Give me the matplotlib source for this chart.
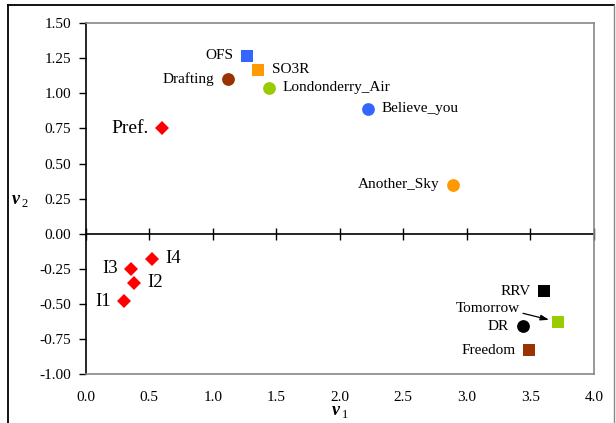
import matplotlib
matplotlib.use("Agg")
import matplotlib.pyplot as plt
from matplotlib.lines import Line2D

plt.rcParams['font.family'] = ['Liberation Serif', 'DejaVu Serif']
plt.rcParams['axes.unicode_minus'] = False
plt.rcParams['mathtext.fontset'] = 'custom'
plt.rcParams['mathtext.bf'] = 'Liberation Serif:italic:bold'
plt.rcParams['mathtext.rm'] = 'Liberation Serif'

# songs
songs = ['OFS', 'SO3R', 'Drafting', 'Londonderry_Air', 'Believe_you', 'Another_Sky',
         'RRV', 'Tomorrow', 'DR', 'Freedom']
songs_v1 = [1.27, 1.36, 1.12, 1.44, 2.22, 2.89, 3.61, 3.72, 3.44, 3.49]
songs_v2 = [1.27, 1.17, 1.10, 1.04, 0.89, 0.35, -0.41, -0.63, -0.66, -0.83]

# preference / individuals
pref = ['Pref.', 'I1', 'I2', 'I3', 'I4']
pref_v1 = [0.60, 0.30, 0.38, 0.36, 0.52]
pref_v2 = [0.75, -0.48, -0.35, -0.25, -0.18]

x_ticks = [0.0, 0.5, 1.0, 1.5, 2.0, 2.5, 3.0, 3.5, 4.0]
y_ticks = [-1.0, -0.75, -0.5, -0.25, 0.0, 0.25, 0.5, 0.75, 1.0, 1.25, 1.5]

# styles
song_colors = ['#3366FF', '#FF9900', '#993300', '#99CC00', '#3366FF', '#FF9900',
               '#000000', '#99CC00', '#000000', '#993300']
song_markers = ['s', 's', 'o', 'o', 'o', 'o', 's', 's', 'o', 's']
song_side = {'OFS': -1, 'SO3R': 1, 'Drafting': -1, 'Londonderry_Air': 1,
             'Believe_you': 1, 'Another_Sky': -1, 'RRV': -1, 'DR': -1, 'Freedom': -1}
pref_side = {'Pref.': -1, 'I1': -1, 'I2': 1, 'I3': -1, 'I4': 1}

fig = plt.figure(figsize=(6.16, 4.23), dpi=100)
ax = fig.add_axes([0.139, 0.1158, 0.8253, 0.8292])

for name, x, y, c, m in zip(songs, songs_v1, songs_v2, song_colors, song_markers):
    ms = 8.6 if m == 's' else 9.2
    ax.plot(x, y, marker=m, color=c, ms=ms, mew=0, ls='none', zorder=3)
    if name in song_side:
        s = song_side[name]
        ax.annotate(name, (x, y), xytext=(s * 9.8, 0), textcoords='offset points',
                    ha='left' if s > 0 else 'right', va='center', fontsize=11)

i_tom = songs.index('Tomorrow')
ax.annotate('Tomorrow', (songs_v1[i_tom], songs_v2[i_tom]), xytext=(-27.5, 9.5),
            textcoords='offset points', ha='right', va='center', fontsize=11,
            arrowprops=dict(arrowstyle='-|>,head_length=0.45,head_width=0.15',
                            color='black', lw=0.9, shrinkA=0, shrinkB=7,
                            relpos=(0.97, 0.25)))

for name, x, y in zip(pref, pref_v1, pref_v2):
    ax.plot(x, y, marker='D', color='#FF0000', ms=7.0, mew=0, ls='none', zorder=3)
    s = pref_side[name]
    fs = 14 if name == 'Pref.' else 13.5
    ax.annotate(name, (x, y), xytext=(s * 9.5, 0), textcoords='offset points',
                ha='left' if s > 0 else 'right', va='center', fontsize=fs)

ax.set_xlim(0, 4)
ax.set_ylim(-1, 1.5)
ax.set_xticks(x_ticks)
ax.set_xticklabels(['%.1f' % t for t in x_ticks])
ax.set_yticks(y_ticks)
ax.set_yticklabels(['%.2f' % t for t in y_ticks])
ax.tick_params(axis='y', direction='out', length=5, width=1, pad=5.5, labelsize=11)
ax.tick_params(axis='x', length=0, pad=12, labelsize=11)

for side in ['top', 'right', 'bottom']:
    ax.spines[side].set_color('#888888')
    ax.spines[side].set_linewidth(1.2)
ax.spines['left'].set_color('black')
ax.spines['left'].set_linewidth(1.2)

# axis line at v2 = 0 with crossing ticks
sec = ax.secondary_xaxis(0.4)
sec.set_xticks(x_ticks)
sec.tick_params(direction='inout', length=8, width=1, labelbottom=False)
sec.spines['bottom'].set_color('black')
sec.spines['bottom'].set_linewidth(1.2)

ax.set_xlabel(r'$\mathbf{v}_{\,\mathrm{1}}$', fontsize=13)
ax.xaxis.set_label_coords(0.5, -0.084)
ax.set_ylabel(r'$\mathbf{v}_{\,\mathrm{2}}$', fontsize=13, rotation=0, va='center')
ax.yaxis.set_label_coords(-0.13, 0.496)

# outer frame
fig.add_artist(Line2D([8 / 616, 614 / 616], [1 - 5 / 423, 1 - 5 / 423],
                      transform=fig.transFigure, color='black', lw=1.3))
fig.add_artist(Line2D([8 / 616, 8 / 616], [0, 1 - 5 / 423],
                      transform=fig.transFigure, color='black', lw=1.3))
fig.add_artist(Line2D([614 / 616, 614 / 616], [0, 1 - 5 / 423],
                      transform=fig.transFigure, color='#888888', lw=1.0))

fig.savefig('out.png', dpi=100)
